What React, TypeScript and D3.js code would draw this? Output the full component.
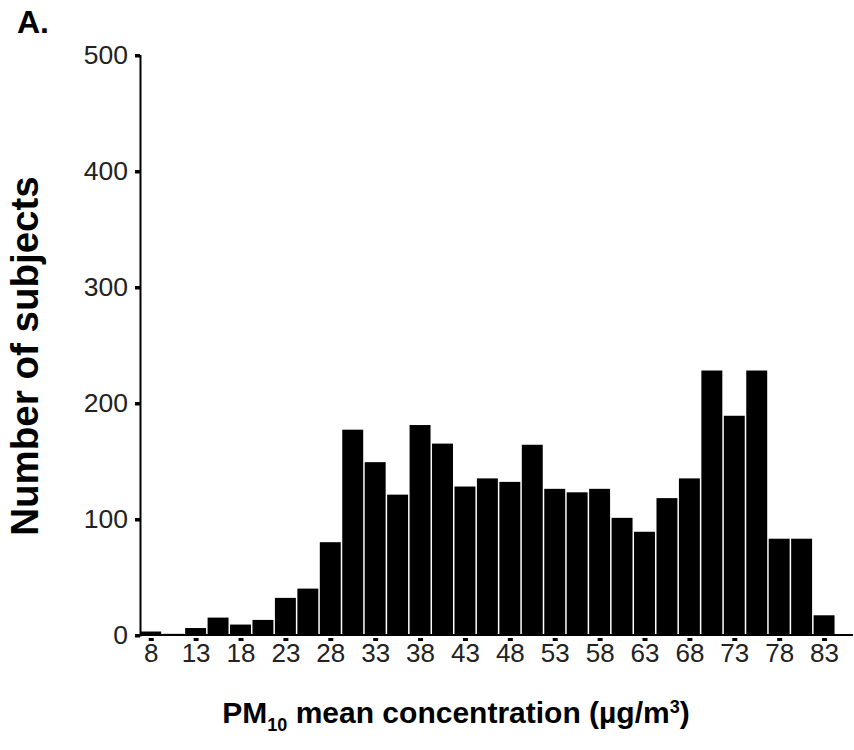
import React, { useEffect, useRef } from "react";
import * as d3 from "d3";

// bin centres (PM10, µg/m3) and counts
const binCenters = [
  8, 10.5, 13, 15.5, 18, 20.5, 23, 25.5, 28, 30.5, 33, 35.5, 38, 40.5, 43, 45.5,
  48, 50.5, 53, 55.5, 58, 60.5, 63, 65.5, 68, 70.5, 73, 75.5, 78, 80.5, 83,
];
const counts = [
  3, 1, 6, 15, 9, 13, 32, 40, 80, 177, 149, 121, 181, 165, 128, 135, 132, 164,
  126, 123, 126, 101, 89, 118, 135, 228, 189, 228, 83, 83, 17,
];
const xTicks = [8, 13, 18, 23, 28, 33, 38, 43, 48, 53, 58, 63, 68, 73, 78, 83];
const yTicks = [0, 100, 200, 300, 400, 500];
const binWidth = 2.5;

function App() {
  const ref = useRef<SVGSVGElement | null>(null);

  useEffect(() => {
    const svg = d3.select(ref.current);
    svg.selectAll("*").remove();

    const font = "'Liberation Sans', Arial, Helvetica, sans-serif";

    const xScale = d3.scaleLinear().domain([6.75, 86]).range([139.5, 851]);
    const yScale = d3.scaleLinear().domain([0, 500]).range([635, 55]);

    // bars
    const data = binCenters.map((c, i) => ({ c, v: counts[i] }));
    const bw = xScale(binWidth) - xScale(0);
    svg
      .append("g")
      .selectAll("rect")
      .data(data)
      .join("rect")
      .attr("x", (d) => xScale(d.c - binWidth / 2) + 0.75)
      .attr("width", bw - 1.5)
      .attr("y", (d) => yScale(d.v))
      .attr("height", (d) => yScale(0) - yScale(d.v))
      .attr("fill", "#000");

    // y axis
    const yAxis = svg
      .append("g")
      .attr("transform", "translate(140,0)")
      .call(d3.axisLeft(yScale).tickValues(yTicks).tickSize(0).tickPadding(12));
    yAxis.select(".domain").remove();
    yAxis
      .selectAll(".tick text")
      .attr("font-family", font)
      .attr("font-size", 26.5)
      .attr("fill", "#222");
    yAxis
      .selectAll(".tick")
      .append("rect")
      .attr("x", -5)
      .attr("y", -1.5)
      .attr("width", 5)
      .attr("height", 3.5)
      .attr("fill", "#000");
    svg
      .append("line")
      .attr("x1", 140.5)
      .attr("x2", 140.5)
      .attr("y1", yScale(500))
      .attr("y2", yScale(0) + 1.5)
      .attr("stroke", "#000")
      .attr("stroke-width", 2);

    // x axis
    const xAxis = svg
      .append("g")
      .attr("transform", `translate(0,${yScale(0)})`)
      .call(d3.axisBottom(xScale).tickValues(xTicks).tickSize(0).tickPadding(9));
    xAxis.select(".domain").remove();
    xAxis
      .selectAll(".tick text")
      .attr("font-family", font)
      .attr("font-size", 26)
      .attr("fill", "#222");
    xAxis
      .selectAll(".tick")
      .append("rect")
      .attr("x", -2.5)
      .attr("y", 3)
      .attr("width", 5)
      .attr("height", 3)
      .attr("fill", "#000");
    svg
      .append("line")
      .attr("x1", 135)
      .attr("x2", 853)
      .attr("y1", yScale(0))
      .attr("y2", yScale(0))
      .attr("stroke", "#000")
      .attr("stroke-width", 2);

    // axis titles
    svg
      .append("text")
      .attr("transform", "translate(38,356) rotate(-90)")
      .attr("text-anchor", "middle")
      .attr("font-family", font)
      .attr("font-weight", "bold")
      .attr("font-size", 38.5)
      .text("Number of subjects");

    const xt = svg
      .append("text")
      .attr("x", 456)
      .attr("y", 723)
      .attr("text-anchor", "middle")
      .attr("font-family", font)
      .attr("font-weight", "bold")
      .attr("font-size", 30);
    xt.append("tspan").text("PM");
    xt.append("tspan").attr("font-size", 18).attr("dy", 8).text("10");
    xt.append("tspan").attr("dy", -8).text(" mean concentration (µg/m");
    xt.append("tspan").attr("font-size", 18).attr("dy", -10).text("3");
    xt.append("tspan").attr("dy", 10).text(")");

    // panel label
    svg
      .append("text")
      .attr("x", 17)
      .attr("y", 33)
      .attr("font-family", font)
      .attr("font-weight", "bold")
      .attr("font-size", 32)
      .text("A.");
  }, []);

  return (
    <svg
      ref={ref}
      width={854}
      height={750}
      style={{ position: "absolute", left: 0, top: 0, background: "#fff" }}
    />
  );
}

export default App;
